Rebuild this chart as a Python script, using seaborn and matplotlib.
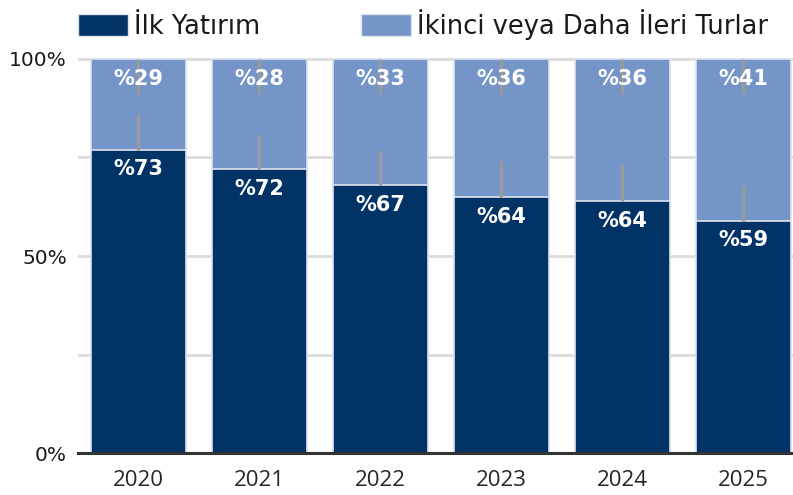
import matplotlib
matplotlib.use("Agg")
import matplotlib.pyplot as plt
import pandas as pd
import seaborn as sns
from matplotlib.patches import Patch

# values
years = ["2020", "2021", "2022", "2023", "2024", "2025"]
first_share = [77, 72, 68, 65, 64, 59]      # bar height of the first-round segment
total_share = [100, 100, 100, 100, 100, 100]
first_labels = [73, 72, 67, 64, 64, 59]
later_labels = [29, 28, 33, 36, 36, 41]
leader_len = 9

DARK = "#023366"
LIGHT = "#7594c8"
EDGE = "#dde4ee"

sns.set_theme(style="white")
plt.rcParams["font.family"] = ["DejaVu Sans"]

df = pd.DataFrame({"year": years, "first": first_share, "total": total_share})

fig = plt.figure(figsize=(7.93, 4.95), dpi=100)
ax = fig.add_axes([78 / 793, 0.0848, 1 - 78 / 793, 0.804])

sns.barplot(data=df, x="year", y="total", color=LIGHT, width=0.79,
            edgecolor=EDGE, linewidth=1.2, saturation=1, ax=ax, zorder=2)
sns.barplot(data=df, x="year", y="first", color=DARK, width=0.79,
            edgecolor=EDGE, linewidth=1.2, saturation=1, ax=ax, zorder=3)

# leader lines like the source chart
for i, (f, t) in enumerate(zip(first_share, total_share)):
    ax.vlines(i, f, f + leader_len, color="#9a9a9a", lw=2.2, zorder=4)
    ax.vlines(i, t - leader_len, t, color="#9a9a9a", lw=2.2, zorder=4)

for i in range(len(years)):
    ax.annotate(f"%{first_labels[i]}", (i, first_share[i]), xytext=(0, -7),
                textcoords="offset points", ha="center", va="top",
                color="white", fontsize=15, fontweight="bold", zorder=5)
    ax.annotate(f"%{later_labels[i]}", (i, total_share[i]), xytext=(0, -7),
                textcoords="offset points", ha="center", va="top",
                color="white", fontsize=15, fontweight="bold", zorder=5)

ax.set_xlim(-0.5, 5.41)
ax.set_ylim(0, 101)
ax.set_yticks([0, 25, 50, 75, 100])
ax.set_yticklabels(["0%", "", "50%", "", "100%"])
ax.grid(axis="y", color="#dcdcdc", lw=2.0, zorder=0)
ax.set_axisbelow(True)
ax.set_xlabel("")
ax.set_ylabel("")
for s in ["top", "right", "left"]:
    ax.spines[s].set_visible(False)
ax.spines["bottom"].set_color("#333333")
ax.spines["bottom"].set_linewidth(2.2)
ax.spines["bottom"].set_zorder(6)
ax.tick_params(axis="y", length=0, pad=8, labelsize=14.5, labelcolor="#1a1a1a")
ax.tick_params(axis="x", length=0, pad=12, labelsize=16, labelcolor="#262626")
for lab in ax.get_xticklabels():
    lab.set_fontfamily("Open Sans")

handles = [Patch(facecolor=DARK, edgecolor=EDGE), Patch(facecolor=LIGHT, edgecolor=EDGE)]
fig.legend(handles, ["İlk Yatırım", "İkinci veya Daha İleri Turlar"],
           loc="center left", bbox_to_anchor=(68 / 793, 0.95), ncol=2,
           frameon=False, fontsize=18.5, handlelength=1.95, handleheight=0.93,
           handletextpad=0.2, columnspacing=3.95, borderaxespad=0,
           labelcolor="#1a1a1a")

fig.savefig("out.png", dpi=100)
